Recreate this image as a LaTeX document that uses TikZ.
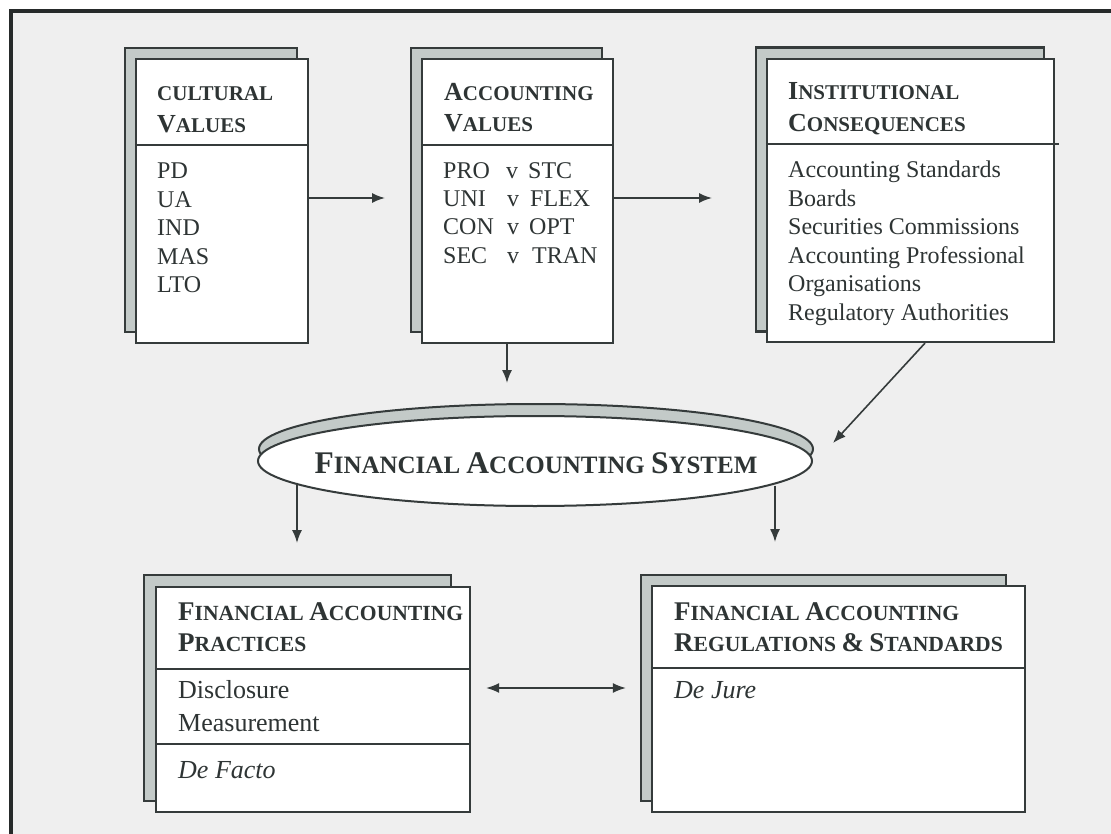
\documentclass[tikz,border=0pt]{standalone}
\usepackage{fontspec}
\setmainfont{Liberation Serif}
\usetikzlibrary{shapes.geometric,arrows.meta}

\definecolor{ink}{HTML}{2E3434}
\definecolor{edge}{HTML}{353B3B}
\definecolor{frameline}{HTML}{262A2A}
\definecolor{paper}{HTML}{EFEFEF}
\definecolor{shade}{HTML}{C3CAC8}

% bold small capitals: first argument full size, second reduced
\newcommand\topsc[2]{{\fontsize{26pt}{26pt}\selectfont #1}{\fontsize{21pt}{21pt}\selectfont #2}}
\newcommand\botsc[2]{{\fontsize{27pt}{27pt}\selectfont #1}{\fontsize{21.6pt}{21.6pt}\selectfont #2}}
\newcommand\elsc[2]{{\fontsize{31.5pt}{31.5pt}\selectfont #1}{\fontsize{25pt}{25pt}\selectfont #2}}

\tikzset{
  frontbox/.style={draw=edge, line width=2.2pt, fill=white, inner sep=0pt},
  backbox/.style={draw=edge, line width=2.2pt, fill=shade, inner sep=0pt},
  rule/.style={draw=edge, line width=2.2pt},
  head/.style={anchor=base west, inner sep=0pt, text=ink, font=\bfseries\fontsize{21.6pt}{21.6pt}\selectfont},
  body/.style={anchor=base west, inner sep=0pt, text=ink, font=\fontsize{24pt}{24pt}\selectfont},
  bodyL/.style={anchor=base west, inner sep=0pt, text=ink, font=\fontsize{26pt}{26pt}\selectfont},
  tip/.tip={Latex[length=13pt,width=10pt]},
  arr/.style={draw=edge, line width=1.6pt, -tip},
  darr/.style={draw=edge, line width=1.6pt, tip-tip},
  oval/.style={ellipse, draw=edge, line width=2pt, inner sep=0pt, minimum width=554pt, minimum height=90pt},
}

\begin{document}
\begin{tikzpicture}[x=1pt,y=-1pt]
\useasboundingbox (0,0) rectangle (1111,834);
\clip (0,0) rectangle (1111,834);

% page and frame
\fill[white] (0,0) rectangle (1111,834);
\fill[paper] (10.5,11.5) rectangle (1111,834);
\draw[frameline, line width=4pt] (10.5,840) -- (10.5,11.5) -- (1120,11.5);

% ---- Cultural values
\node[backbox, minimum width=172pt, minimum height=284pt] (cvb) at (211,190) {};
\node[frontbox, minimum width=172pt, minimum height=284pt] (cv) at (222,201) {};
\draw[rule] (cv.west |- 0,145) -- (cv.east |- 0,145);
\node[head] (cvh1) at (157,101) {\topsc{}{CULTURAL}};
\node[head] (cvh2) at (157,133) {\topsc{V}{ALUES}};
\node[body] (cv1) at (157,179) {PD};
\node[body] (cv2) at (157,207.5) {UA};
\node[body] (cv3) at (157,236) {IND};
\node[body] (cv4) at (157,264.5) {MAS};
\node[body] (cv5) at (157,293) {LTO};

% ---- Accounting values
\node[backbox, minimum width=191pt, minimum height=284pt] (avb) at (506.5,190) {};
\node[frontbox, minimum width=191pt, minimum height=284pt] (av) at (517.5,201) {};
\draw[rule] (av.west |- 0,145) -- (av.east |- 0,145);
\node[head] (avh1) at (444,101) {\topsc{A}{CCOUNTING}};
\node[head] (avh2) at (444,132) {\topsc{V}{ALUES}};
\node[body] (av1a) at (443,178.5) {PRO};
\node[body] (av1b) at (506,178.5) {v};
\node[body] (av1c) at (528,178.5) {STC};
\node[body] (av2a) at (443,207) {UNI};
\node[body] (av2b) at (507,207) {v};
\node[body] (av2c) at (530,207) {FLEX};
\node[body] (av3a) at (443,235) {CON};
\node[body] (av3b) at (507,235) {v};
\node[body] (av3c) at (529,235) {OPT};
\node[body] (av4a) at (443,263.5) {SEC};
\node[body] (av4b) at (507,263.5) {v};
\node[body] (av4c) at (532,263.5) {TRAN};

% ---- Institutional consequences
\node[backbox, minimum width=288pt, minimum height=284pt] (icb) at (900,189.5) {};
\node[frontbox, minimum width=287pt, minimum height=283pt] (ic) at (910.5,200.5) {};
\draw[rule] (ic.west |- 0,144) -- ([xshift=4pt]ic.east |- 0,144);
\node[head] (ich1) at (788,100) {\topsc{I}{NSTITUTIONAL}};
\node[head] (ich2) at (788,132) {\topsc{C}{ONSEQUENCES}};
\node[body] (ic1) at (788,178) {Accounting Standards};
\node[body] (ic2) at (788,206.5) {Boards};
\node[body] (ic3) at (788,235) {Securities Commissions};
\node[body] (ic4) at (788,263.5) {Accounting Professional};
\node[body] (ic5) at (788,292) {Organisations};
\node[body] (ic6) at (788,320.5) {Regulatory Authorities};

% ---- Financial accounting system
\node[oval, fill=shade] (fasb) at (536,449) {};
\node[oval, fill=white] (fas) at (535,461) {};
\node[anchor=base, inner sep=0pt, text=ink, font=\bfseries\fontsize{25pt}{25pt}\selectfont] (fast) at (536,473)
  {\elsc{F}{INANCIAL} \elsc{A}{CCOUNTING} \elsc{S}{YSTEM}};

% ---- Financial accounting practices
\node[backbox, minimum width=307pt, minimum height=226pt] (prb) at (297.5,688) {};
\node[frontbox, minimum width=314pt, minimum height=225pt] (pr) at (313,699.5) {};
\draw[rule] (pr.west |- 0,669) -- (pr.east |- 0,669);
\draw[rule] (pr.west |- 0,744) -- (pr.east |- 0,744);
\node[head] (prh1) at (178,620) {\botsc{F}{INANCIAL} \botsc{A}{CCOUNTING}};
\node[head] (prh2) at (178,651) {\botsc{P}{RACTICES}};
\node[bodyL] (pr1) at (178,698) {Disclosure};
\node[bodyL] (pr2) at (178,731) {Measurement};
\node[bodyL, font=\itshape\fontsize{26pt}{26pt}\selectfont] (pr3) at (178,778) {De Facto};

% ---- Financial accounting regulations and standards
\node[backbox, minimum width=365pt, minimum height=226pt] (rgb) at (823.5,688) {};
\node[frontbox, minimum width=373pt, minimum height=226pt] (rg) at (838.5,699) {};
\draw[rule] (rg.west |- 0,668) -- (rg.east |- 0,668);
\node[head] (rgh1) at (674,620) {\botsc{F}{INANCIAL} \botsc{A}{CCOUNTING}};
\node[head] (rgh2) at (674,651) {\botsc{R}{EGULATIONS} \botsc{\&}{} \botsc{S}{TANDARDS}};
\node[bodyL, font=\itshape\fontsize{26pt}{26pt}\selectfont] (rg1) at (674,698) {De Jure};

% ---- connectors
\coordinate (e1) at (385,198);
\draw[arr] ([yshift=3pt]cv.east) -- (e1);
\coordinate (e2) at (712,198);
\draw[arr] ([yshift=3pt]av.east) -- (e2);
\coordinate (e3) at (507,383);
\draw[arr] ([xshift=-10.5pt]av.south) -- (e3);
\coordinate (e4) at (833,443);
\draw[arr] ([xshift=14.5pt]ic.south) -- (e4);
\coordinate (e5) at (297,543);
\draw[arr] (e5 |- fas.185.5) -- (e5);
\coordinate (e6) at (775,542);
\draw[arr] (e6 |- fas.354.5) -- (e6);
\draw[darr, shorten <=15pt, shorten >=25pt] ([yshift=11.5pt]pr.east) -- ([yshift=11pt]rg.west);
\end{tikzpicture}
\end{document}
